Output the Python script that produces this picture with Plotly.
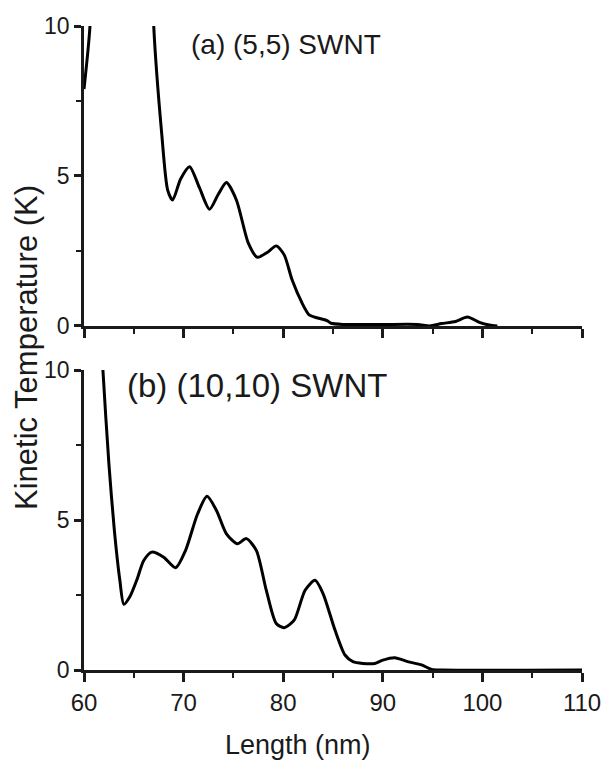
import plotly.graph_objects as go

# (a) (5,5) SWNT: kinetic temperature profile along the tube
len_a = [60.0, 60.6, 61.0, 66.6, 67.0, 67.8, 68.4, 68.9, 69.7, 70.6, 71.6, 72.6,
         73.5, 74.3, 75.3, 76.5, 77.4, 78.4, 79.3, 80.1, 80.9, 81.9, 82.6, 83.2,
         84.4, 84.8, 86.0, 90.0, 93.5, 94.7, 95.9, 97.3, 98.5, 99.7, 100.7, 101.5]
temp_a = [7.9, 10.0, 15.0, 15.0, 10.0, 6.42, 4.53, 4.2, 4.9, 5.31, 4.6, 3.89,
          4.4, 4.78, 4.2, 2.76, 2.29, 2.45, 2.67, 2.37, 1.53, 0.76, 0.37, 0.29,
          0.18, 0.09, 0.05, 0.05, 0.05, 0.0, 0.08, 0.15, 0.3, 0.12, 0.03, 0.0]

# (b) (10,10) SWNT
len_b = [61.6, 61.9, 62.5, 63.05, 63.6, 64.0, 64.6, 65.3, 66.0, 66.8, 68.0, 69.2,
         70.2, 71.4, 72.35, 73.3, 74.3, 75.4, 76.3, 77.3, 78.3, 79.3, 80.1, 81.1,
         82.2, 83.2, 84.0, 85.2, 86.2, 87.0, 88.0, 89.2, 90.0, 91.2, 92.5, 93.9,
         94.9, 96.0, 110.0]
temp_b = [12.0, 10.0, 6.87, 4.65, 2.99, 2.19, 2.44, 3.0, 3.65, 3.93, 3.76, 3.41,
          3.99, 5.2, 5.79, 5.32, 4.54, 4.21, 4.38, 3.99, 2.66, 1.55, 1.41, 1.66,
          2.66, 2.99, 2.55, 1.33, 0.5, 0.28, 0.22, 0.22, 0.33, 0.41, 0.28, 0.17,
          0.02, 0.0, 0.0]

x_ticks = [60, 70, 80, 90, 100, 110]
y_ticks = [0, 5, 10]
panel_labels = ["(a) (5,5) SWNT", "(b) (10,10) SWNT"]

FONT = "Liberation Sans, Arial, sans-serif"
INK = "#1a1a1a"
LINE = dict(color="black", width=3, shape="spline", smoothing=0.7)

fig = go.Figure()
fig.add_trace(go.Scatter(x=len_a, y=temp_a, mode="lines", xaxis="x", yaxis="y",
                         line=LINE, showlegend=False))
fig.add_trace(go.Scatter(x=len_b, y=temp_b, mode="lines", xaxis="x2", yaxis="y2",
                         line=LINE, showlegend=False))

common_x = dict(range=[60, 110], tickvals=x_ticks, showline=True, linecolor=INK,
                linewidth=2.5, ticks="outside", ticklen=9, tickwidth=2.5, tickcolor=INK,
                minor=dict(dtick=5, tick0=60, ticks="outside", ticklen=5, tickwidth=2, tickcolor=INK),
                showgrid=False, zeroline=False, mirror=False,
                tickfont=dict(family=FONT, size=24, color=INK))
common_y = dict(range=[0, 10], tickvals=y_ticks, showline=True, linecolor=INK,
                linewidth=2.5, ticks="outside", ticklen=7, tickwidth=2.5, tickcolor=INK,
                minor=dict(dtick=2.5, tick0=0, ticks="outside", ticklen=5, tickwidth=2, tickcolor=INK),
                showgrid=False, zeroline=False,
                tickfont=dict(family=FONT, size=23, color=INK))

fig.update_layout(
    width=613, height=764,
    margin=dict(l=84, r=23, t=26, b=94),
    paper_bgcolor="white", plot_bgcolor="white",
    xaxis=dict(common_x, anchor="y", showticklabels=False),
    yaxis=dict(common_y, anchor="x", domain=[0.5342, 1.0]),
    xaxis2=dict(common_x, anchor="y2"),
    yaxis2=dict(common_y, anchor="x2", domain=[0.0, 0.4658]),
    annotations=[
        dict(text=panel_labels[0], xref="x", yref="y", x=70.5, y=9.37,
             xanchor="left", yanchor="middle", showarrow=False,
             font=dict(family=FONT, size=28, color=INK)),
        dict(text=panel_labels[1], xref="x2", yref="y2", x=64.1, y=9.5,
             xanchor="left", yanchor="middle", showarrow=False,
             font=dict(family=FONT, size=33, color=INK)),
        dict(text="Length (nm)", xref="paper", yref="paper", x=0.5, y=0,
             xshift=-35, yshift=-75, xanchor="center", yanchor="middle", showarrow=False,
             font=dict(family=FONT, size=27, color=INK)),
        dict(text="Kinetic Temperature (K)", xref="paper", yref="paper", x=0, y=0.5,
             xshift=-58, xanchor="center", yanchor="middle", textangle=-90,
             showarrow=False, font=dict(family=FONT, size=31, color=INK)),
    ],
)

fig.write_html("out.html")
